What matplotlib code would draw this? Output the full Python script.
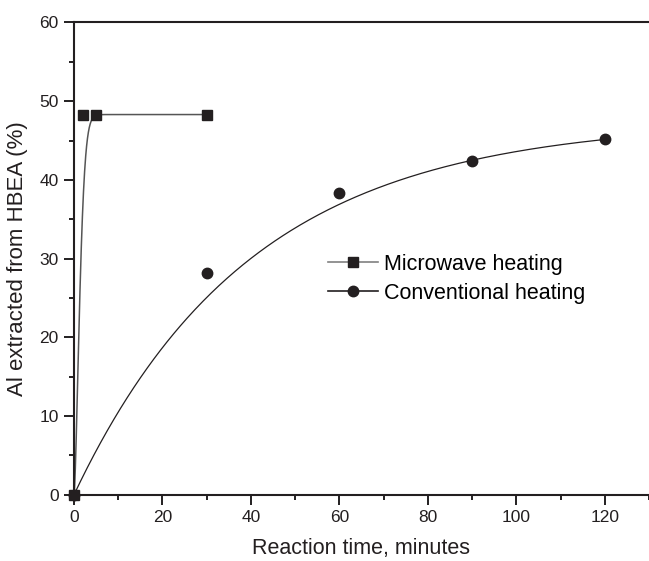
import numpy as np
import matplotlib.pyplot as plt
from matplotlib.ticker import MultipleLocator

plt.rcParams['font.family'] = ['Liberation Sans', 'DejaVu Sans']

# measured points
mw_time = [0, 2, 5, 30]
mw_al = [0, 48.3, 48.3, 48.3]
conv_time = [0, 30, 60, 90, 120]
conv_al = [0, 28.2, 38.3, 42.4, 45.2]

# fitted curves (parameters)
mw_fit_max, mw_fit_tau, mw_fit_n = 48.3, 1.6, 1.58
conv_fit_max, conv_fit_k = 47.5, 0.025

ink = '#231f20'

fig = plt.figure(figsize=(6.49, 5.61), dpi=100)
ax = fig.add_axes([0.114, 0.118, 0.886, 0.842])

t1 = np.linspace(0, 30, 600)
ax.plot(t1, mw_fit_max * (1 - np.exp(-(t1 / mw_fit_tau) ** mw_fit_n)),
        color='#555555', lw=1.1, zorder=2)
t2 = np.linspace(0, 120, 400)
ax.plot(t2, conv_fit_max * (1 - np.exp(-conv_fit_k * t2)),
        color=ink, lw=0.9, zorder=2)

ax.plot(mw_time, mw_al, 's', color=ink, ms=7, zorder=3, clip_on=False)
ax.plot(conv_time, conv_al, 'o', color=ink, ms=7.5, zorder=3, clip_on=False)

# legend proxies: line with marker in the middle
h1, = ax.plot([], [], '-s', color='#808080', ms=7, lw=1.2,
              markerfacecolor=ink, markeredgecolor=ink)
h2, = ax.plot([], [], '-o', color=ink, ms=7.5, lw=1.2)
ax.legend([h1, h2], ['Microwave heating', 'Conventional heating'],
          loc='upper left', bbox_to_anchor=(0.442, 0.51), frameon=False,
          fontsize=15.5, handlelength=2.3, handletextpad=0.3,
          labelspacing=0.37, borderpad=0, borderaxespad=0)

ax.set_xlim(0, 130)
ax.set_ylim(0, 60)
ax.xaxis.set_major_locator(MultipleLocator(20))
ax.xaxis.set_minor_locator(MultipleLocator(10))
ax.yaxis.set_major_locator(MultipleLocator(10))
ax.yaxis.set_minor_locator(MultipleLocator(5))
ax.tick_params(which='major', direction='out', length=7, width=1.4,
               labelsize=12.5, colors=ink, pad=4)
ax.tick_params(which='minor', direction='out', length=3.8, width=1.4, colors=ink)
ax.spines['right'].set_visible(False)
for s in ['left', 'bottom', 'top']:
    ax.spines[s].set_linewidth(1.5)
    ax.spines[s].set_color(ink)

ax.set_xlabel('Reaction time, minutes', fontsize=15.5, color=ink, labelpad=9)
ax.set_ylabel('Al extracted from HBEA (%)', fontsize=16, color=ink, labelpad=8)

fig.savefig('out.png', dpi=100)
